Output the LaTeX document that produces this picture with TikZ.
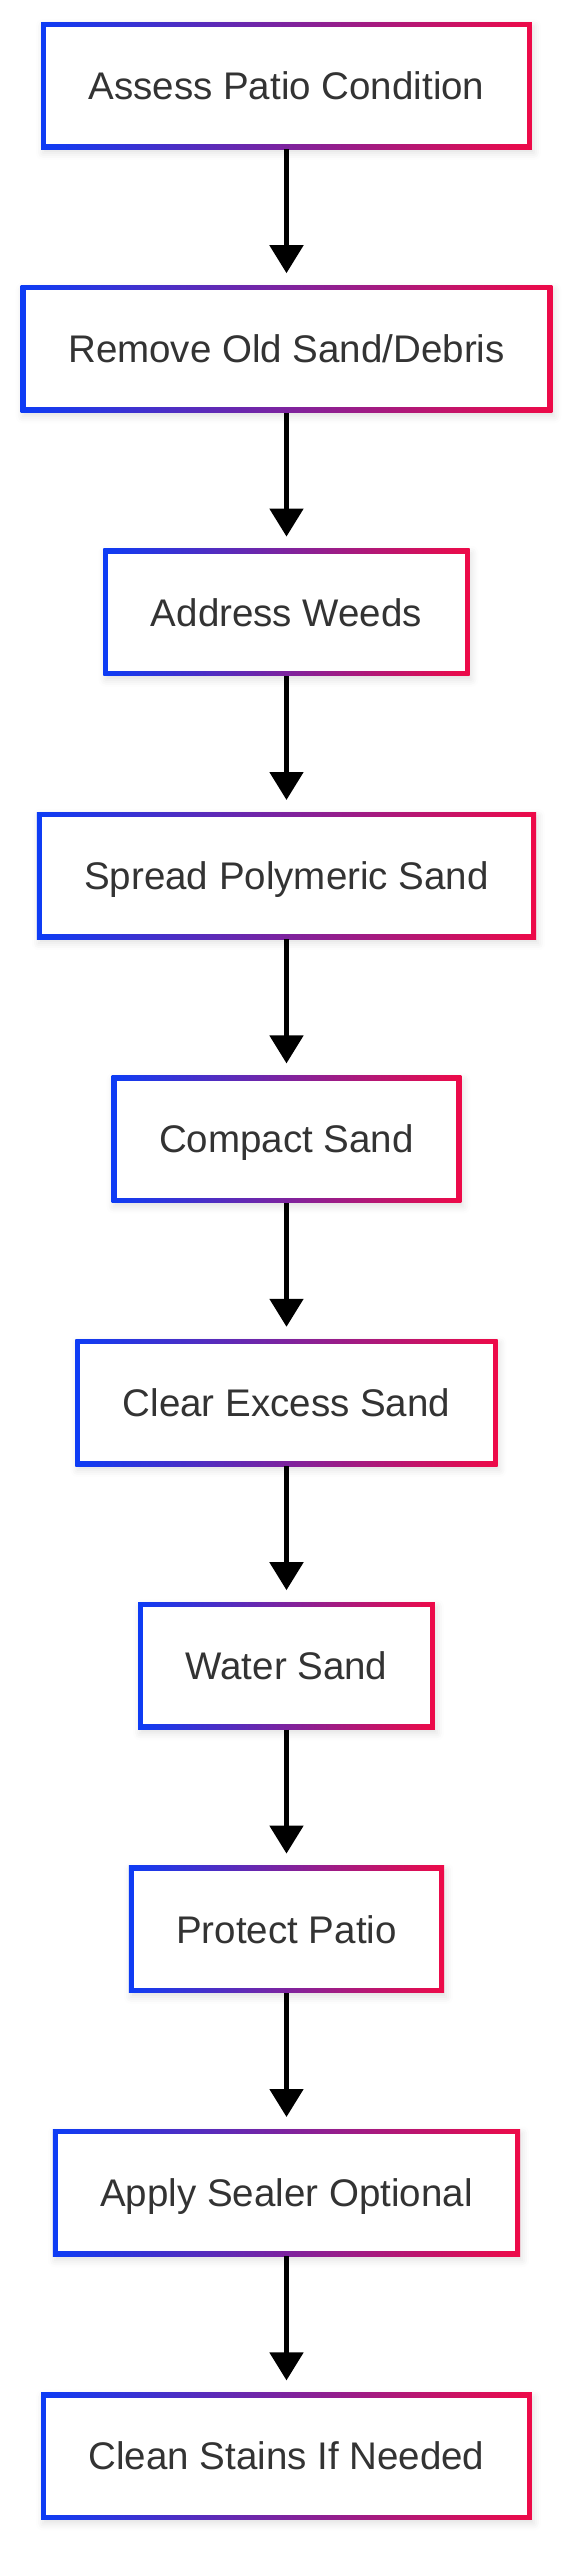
\documentclass[tikz,border=0pt]{standalone}
\usepackage{fontspec}
\setmainfont{Liberation Sans}
\usetikzlibrary{positioning}
\usetikzlibrary{arrows.meta}
\usetikzlibrary{shadows.blur}

\definecolor{flowblue}{RGB}{13,60,245}
\definecolor{flowred}{RGB}{238,10,72}
\definecolor{flowtext}{RGB}{51,51,51}

\tikzset{
  stepbox/.style={rectangle, minimum height=127pt, inner xsep=47.5pt, inner ysep=0pt,
    text height=27.6pt, text depth=0pt, text=flowtext,
    font=\fontsize{38.5pt}{46pt}\selectfont,
    left color=flowblue, right color=flowred,
    blur shadow={shadow xshift=2pt, shadow yshift=-4pt, shadow blur radius=7pt, shadow opacity=12},
    path picture={\fill[white] ([shift={(5pt,5pt)}]path picture bounding box.south west)
      rectangle ([shift={(-5pt,-5pt)}]path picture bounding box.north east);}},
  flowarrow/.style={line width=5pt, -{Triangle[length=28pt,width=33pt]}, shorten >=12pt}
}

\begin{document}
\begin{tikzpicture}[node distance=136pt]
\useasboundingbox (-286.5pt,85.5pt) rectangle (291.5pt,-2474.5pt);
\node[stepbox] (s1) {Assess Patio Condition};
\node[stepbox, below=of s1] (s2) {Remove Old Sand/Debris};
\node[stepbox, below=of s2] (s3) {Address Weeds};
\node[stepbox, below=of s3] (s4) {Spread Polymeric Sand};
\node[stepbox, below=of s4] (s5) {Compact Sand};
\node[stepbox, below=of s5] (s6) {Clear Excess Sand};
\node[stepbox, below=of s6] (s7) {Water Sand};
\node[stepbox, below=of s7] (s8) {Protect Patio};
\node[stepbox, below=of s8] (s9) {Apply Sealer Optional};
\node[stepbox, below=of s9] (s10) {Clean Stains If Needed};
\draw[flowarrow] (s1.south) -- (s2.north);
\draw[flowarrow] (s2.south) -- (s3.north);
\draw[flowarrow] (s3.south) -- (s4.north);
\draw[flowarrow] (s4.south) -- (s5.north);
\draw[flowarrow] (s5.south) -- (s6.north);
\draw[flowarrow] (s6.south) -- (s7.north);
\draw[flowarrow] (s7.south) -- (s8.north);
\draw[flowarrow] (s8.south) -- (s9.north);
\draw[flowarrow] (s9.south) -- (s10.north);
\end{tikzpicture}
\end{document}
